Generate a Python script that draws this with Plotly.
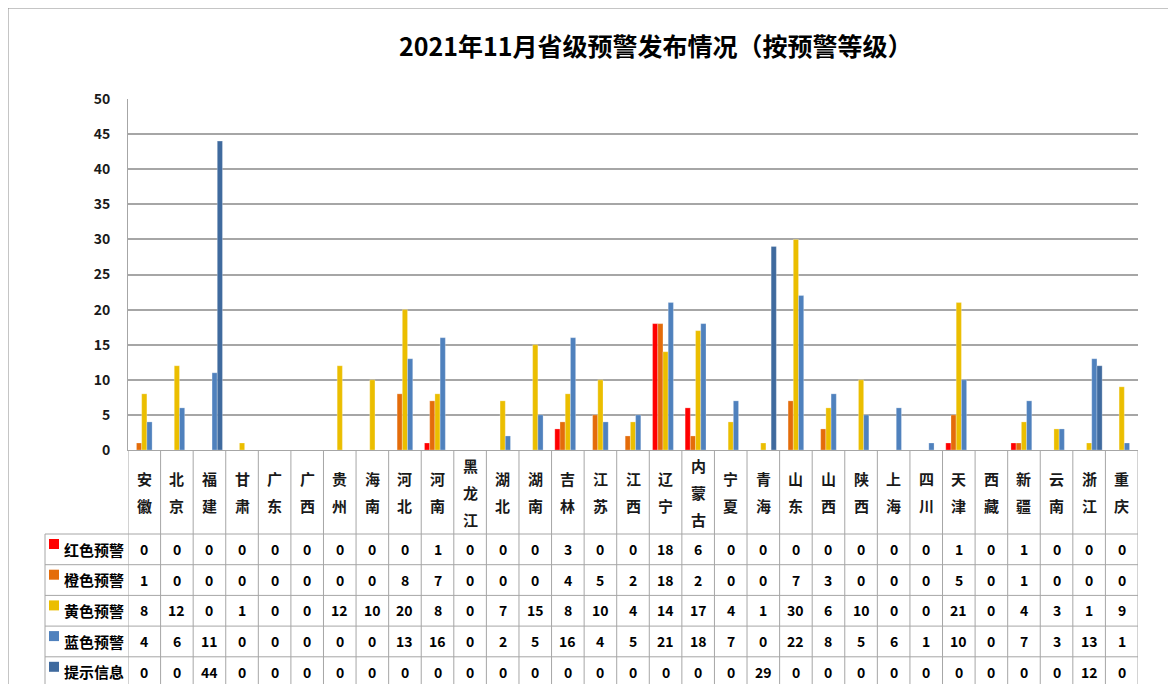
import plotly.graph_objects as go

categories = ["安徽", "北京", "福建", "甘肃", "广东", "广西", "贵州", "海南", "河北", "河南",
              "黑龙江", "湖北", "湖南", "吉林", "江苏", "江西", "辽宁", "内蒙古", "宁夏", "青海",
              "山东", "山西", "陕西", "上海", "四川", "天津", "西藏", "新疆", "云南", "浙江", "重庆"]

red_vals = [0, 0, 0, 0, 0, 0, 0, 0, 0, 1, 0, 0, 0, 3, 0, 0, 18, 6, 0, 0, 0, 0, 0, 0, 0, 1, 0, 1, 0, 0, 0]
orange_vals = [1, 0, 0, 0, 0, 0, 0, 0, 8, 7, 0, 0, 0, 4, 5, 2, 18, 2, 0, 0, 7, 3, 0, 0, 0, 5, 0, 1, 0, 0, 0]
yellow_vals = [8, 12, 0, 1, 0, 0, 12, 10, 20, 8, 0, 7, 15, 8, 10, 4, 14, 17, 4, 1, 30, 6, 10, 0, 0, 21, 0, 4, 3, 1, 9]
blue_vals = [4, 6, 11, 0, 0, 0, 0, 0, 13, 16, 0, 2, 5, 16, 4, 5, 21, 18, 7, 0, 22, 8, 5, 6, 1, 10, 0, 7, 3, 13, 1]
info_vals = [0, 0, 44, 0, 0, 0, 0, 0, 0, 0, 0, 0, 0, 0, 0, 0, 0, 0, 0, 29, 0, 0, 0, 0, 0, 0, 0, 0, 0, 12, 0]

series_names = ["红色预警", "橙色预警", "黄色预警", "蓝色预警", "提示信息"]
series_values = [red_vals, orange_vals, yellow_vals, blue_vals, info_vals]
series_colors = ["#FF0000", "#E46C0A", "#EBBE00", "#4F81BD", "#3F6A9E"]

y_ticks = list(range(0, 55, 5))
title_text = "2021年11月省级预警发布情况（按预警等级）"

# page coordinates: the html body adds an 8px margin
OFF = 8
W, H = 1176 - 2 * OFF, 684 - OFF
PLOT_L, PLOT_R, PLOT_T, PLOT_B = 128, 1138, 99, 450  # page pixels
L = PLOT_L - OFF
T = PLOT_T - OFF
R = W - (PLOT_R - OFF)
B = H - (PLOT_B - OFF)
plot_h = PLOT_B - PLOT_T
plot_w = PLOT_R - PLOT_L
FONT = "Noto Sans CJK SC"


def py(pix):
    return (PLOT_B - pix) / plot_h


def px(pix):
    return (pix - PLOT_L) / plot_w


fig = go.Figure()
for name, vals, col in zip(series_names, series_values, series_colors):
    fig.add_trace(go.Bar(
        x=categories,
        y=[v if v else None for v in vals],
        name=name,
        marker=dict(color=col, line=dict(color="rgba(255,255,255,0.45)", width=0.6)),
        hoverinfo="x+y+name",
    ))

shapes = []
annotations = []
grid_col = "#A6A6A6"

# outer chart border
shapes.append(dict(type="line", xref="paper", yref="paper", x0=px(8), x1=px(1180), y0=py(8), y1=py(8),
                   line=dict(color="#8C8C8C", width=1)))
shapes.append(dict(type="line", xref="paper", yref="paper", x0=px(8), x1=px(8), y0=py(8), y1=py(690),
                   line=dict(color="#8C8C8C", width=1)))

# table vertical lines at category boundaries
n = len(categories)
for i in range(n + 1):
    shapes.append(dict(type="line", xref="x", yref="paper", x0=i - 0.5, x1=i - 0.5,
                       y0=0, y1=py(690), line=dict(color=grid_col, width=1)))
# left table border
row_tops = [534 + 30.7 * k for k in range(6)]
shapes.append(dict(type="line", xref="paper", yref="paper", x0=px(45), x1=px(45),
                   y0=py(row_tops[0]), y1=py(690), line=dict(color=grid_col, width=1)))
for yt in row_tops[:5]:
    shapes.append(dict(type="line", xref="paper", yref="paper", x0=px(45), x1=1,
                       y0=py(yt), y1=py(yt), line=dict(color=grid_col, width=1)))

# category labels (vertical stacked characters)
for cat in categories:
    chars = list(cat)
    m = len(chars)
    for k, ch in enumerate(chars):
        cy = 492 + (k - (m - 1) / 2) * 27
        annotations.append(dict(x=cat, y=py(cy), xref="x", yref="paper", text=ch, showarrow=False,
                                font=dict(family=FONT, size=15, color="#1a1a1a", weight="bold"),
                                xanchor="center", yanchor="middle"))

# table rows
for r, (name, vals, col) in enumerate(zip(series_names, series_values, series_colors)):
    cy = row_tops[r] + 15
    shapes.append(dict(type="rect", xref="paper", yref="paper", x0=px(49), x1=px(59),
                       y0=py(cy - 10), y1=py(cy), fillcolor=col, line=dict(width=0)))
    annotations.append(dict(x=px(62), y=py(cy), xref="paper", yref="paper", text=name, showarrow=False,
                            font=dict(family=FONT, size=15, color="#000000", weight="bold"),
                            xanchor="left", yanchor="middle"))
    for cat, v in zip(categories, vals):
        annotations.append(dict(x=cat, y=py(cy), xref="x", yref="paper", text=str(v), showarrow=False,
                                font=dict(family=FONT, size=14, color="#000000", weight="bold"),
                                xanchor="center", yanchor="middle"))

# title
annotations.append(dict(x=px(656), y=py(45), xref="paper", yref="paper", text=title_text, showarrow=False,
                        font=dict(family=FONT, size=25, color="#000000", weight="bold"),
                        xanchor="center", yanchor="middle"))

fig.update_layout(
    width=W, height=H,
    margin=dict(l=L, r=R, t=T, b=B, pad=0),
    paper_bgcolor="white", plot_bgcolor="white",
    barmode="group", bargap=0.2, bargroupgap=0,
    showlegend=False,
    shapes=shapes, annotations=annotations,
    font=dict(family=FONT),
    xaxis=dict(type="category", range=[-0.5, n - 0.5], showticklabels=False, showgrid=False,
               showline=True, linecolor=grid_col, linewidth=1, ticks="", zeroline=False,
               fixedrange=True),
    yaxis=dict(range=[0, 50], tickvals=y_ticks, showgrid=True, gridcolor=grid_col, gridwidth=1.6,
               showline=True, linecolor=grid_col, linewidth=1, zeroline=False, ticks="",
               ticklabelstandoff=14,
               tickfont=dict(family=FONT, size=14, color="#1a1a1a", weight="bold"), fixedrange=True),
)

fig.write_html("out.html")
